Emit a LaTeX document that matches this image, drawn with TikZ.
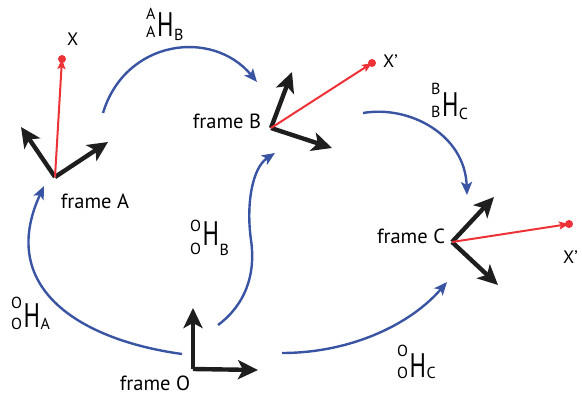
\documentclass[tikz,border=0pt]{standalone}
\usepackage{fontspec}
\setmainfont{PT Sans}
\usetikzlibrary{arrows.meta}
\definecolor{hblue}{RGB}{58,84,164}
\definecolor{xred}{RGB}{237,50,55}
\definecolor{axblack}{RGB}{30,30,30}
\newcommand\prefont{\fontsize{16}{16}\selectfont}
\newcommand\Hfont{\fontsize{34}{34}\selectfont}
\newcommand\HL[6]{{\prefont\rlap{\raisebox{#4}{#1}}\raisebox{#5}{#2}}\kern1.5pt{\Hfont\scalebox{0.72}[1]{H}}\kern0.5pt{\prefont\raisebox{#6}{#3}}}
\tikzset{
  axis/.style={draw=axblack, line width=4.4pt, -{Stealth[length=20pt,width=19pt,inset=5pt]}},
  xvec/.style={draw=xred, line width=2pt, -{Stealth[length=10pt,width=8pt,inset=2pt]}},
  xdot/.style={circle, fill=xred, inner sep=0pt, minimum size=8pt},
  trans/.style={draw=hblue, line width=2.4pt, -{Stealth[length=13pt,width=11pt,inset=3pt]}},
  flabel/.style={font=\fontsize{20.5}{20}\selectfont, inner sep=0pt, anchor=base},
  xlabel/.style={font=\fontsize{18}{18}\selectfont, inner sep=0pt, anchor=base west},
  hlabel/.style={inner sep=0pt, anchor=base west},
}
\begin{document}
\begin{tikzpicture}[x=1pt,y=-1pt]
\useasboundingbox (0,0) rectangle (582,402);
% frame origins and axis tips
\coordinate (oA) at (55,177);
\coordinate (a1) at (21,127);
\coordinate (a2) at (108,142);
\coordinate (oB) at (271,128);
\coordinate (b1) at (292,72);
\coordinate (b2) at (332,148);
\coordinate (oC) at (452,242);
\coordinate (c1) at (494,197);
\coordinate (c2) at (498,285);
\coordinate (oO) at (193,369);
\coordinate (o1) at (193,308);
\coordinate (o2) at (258,370);
% points X
\node[xdot] (xA) at (62,59) {};
\node[xdot] (xB) at (372,63) {};
\node[xdot] (xC) at (569,224) {};
% axes
\draw[axis] (oA) -- (a1);
\draw[axis] (oA) -- (a2);
\draw[axis] (oB) -- (b1);
\draw[axis] (oB) -- (b2);
\draw[axis] (oC) -- (c1);
\draw[axis] (oC) -- (c2);
\draw[axis] (oO) -- (o1);
\draw[axis] (oO) -- (o2);
% red vectors
\draw[xvec] (oA) -- (xA.center);
\draw[xvec] (oB) -- (xB.center);
\draw[xvec] (oC) -- (xC.center);
% labels
\node[flabel] (fA) at (95,208) {frame A};
\node[flabel] (fB) at (227,128) {frame B};
\node[flabel] (fC) at (411,243) {frame C};
\node[flabel] (fO) at (155,390) {frame O};
\node[xlabel] (lxA) at (67,45) {X};
\node[xlabel] (lxB) at (383,67) {X’};
\node[xlabel] (lxC) at (563,263) {X’};
% transform curve end points
\coordinate (sOA) at (182,354);
\coordinate (eOA) at (44,186);
\coordinate (sAB) at (103,113);
\coordinate (eAB) at (257,82);
\coordinate (sOB) at (218,325);
\coordinate (mOB) at (251,240);
\coordinate (eOB) at (275,153);
\coordinate (sBC) at (363,113);
\coordinate (eBC) at (467,195);
\coordinate (sOC) at (282,353);
\coordinate (eOC) at (447,282);
\draw[trans] (sOA) .. controls (80,340) and (-3,288) .. (eOA);
\draw[trans] (sAB) .. controls (125,40) and (212,28) .. (eAB);
\draw[trans] (sOB) .. controls (245,305) and (256,275) .. (mOB) .. controls (246,205) and (252,168) .. (eOB);
\draw[trans] (sBC) .. controls (410,105) and (465,135) .. (eBC);
\draw[trans] (sOC) .. controls (350,353) and (410,325) .. (eOC);
% transform labels
\node[hlabel] (hAB) at (146,36) {\HL{A}{A}{B}{17pt}{-1pt}{-4pt}};
\node[hlabel] (hOB) at (190,245) {\HL{O}{O}{B}{14pt}{-9pt}{-10pt}};
\node[hlabel] (hBC) at (431,116) {\HL{B}{B}{C}{22pt}{-1pt}{-3pt}};
\node[hlabel] (hOA) at (11,327) {\HL{O}{O}{A}{19pt}{-2pt}{-2pt}};
\node[hlabel] (hOC) at (397,377) {\HL{O}{O}{C}{21pt}{-1pt}{-1pt}};
\end{tikzpicture}
\end{document}
